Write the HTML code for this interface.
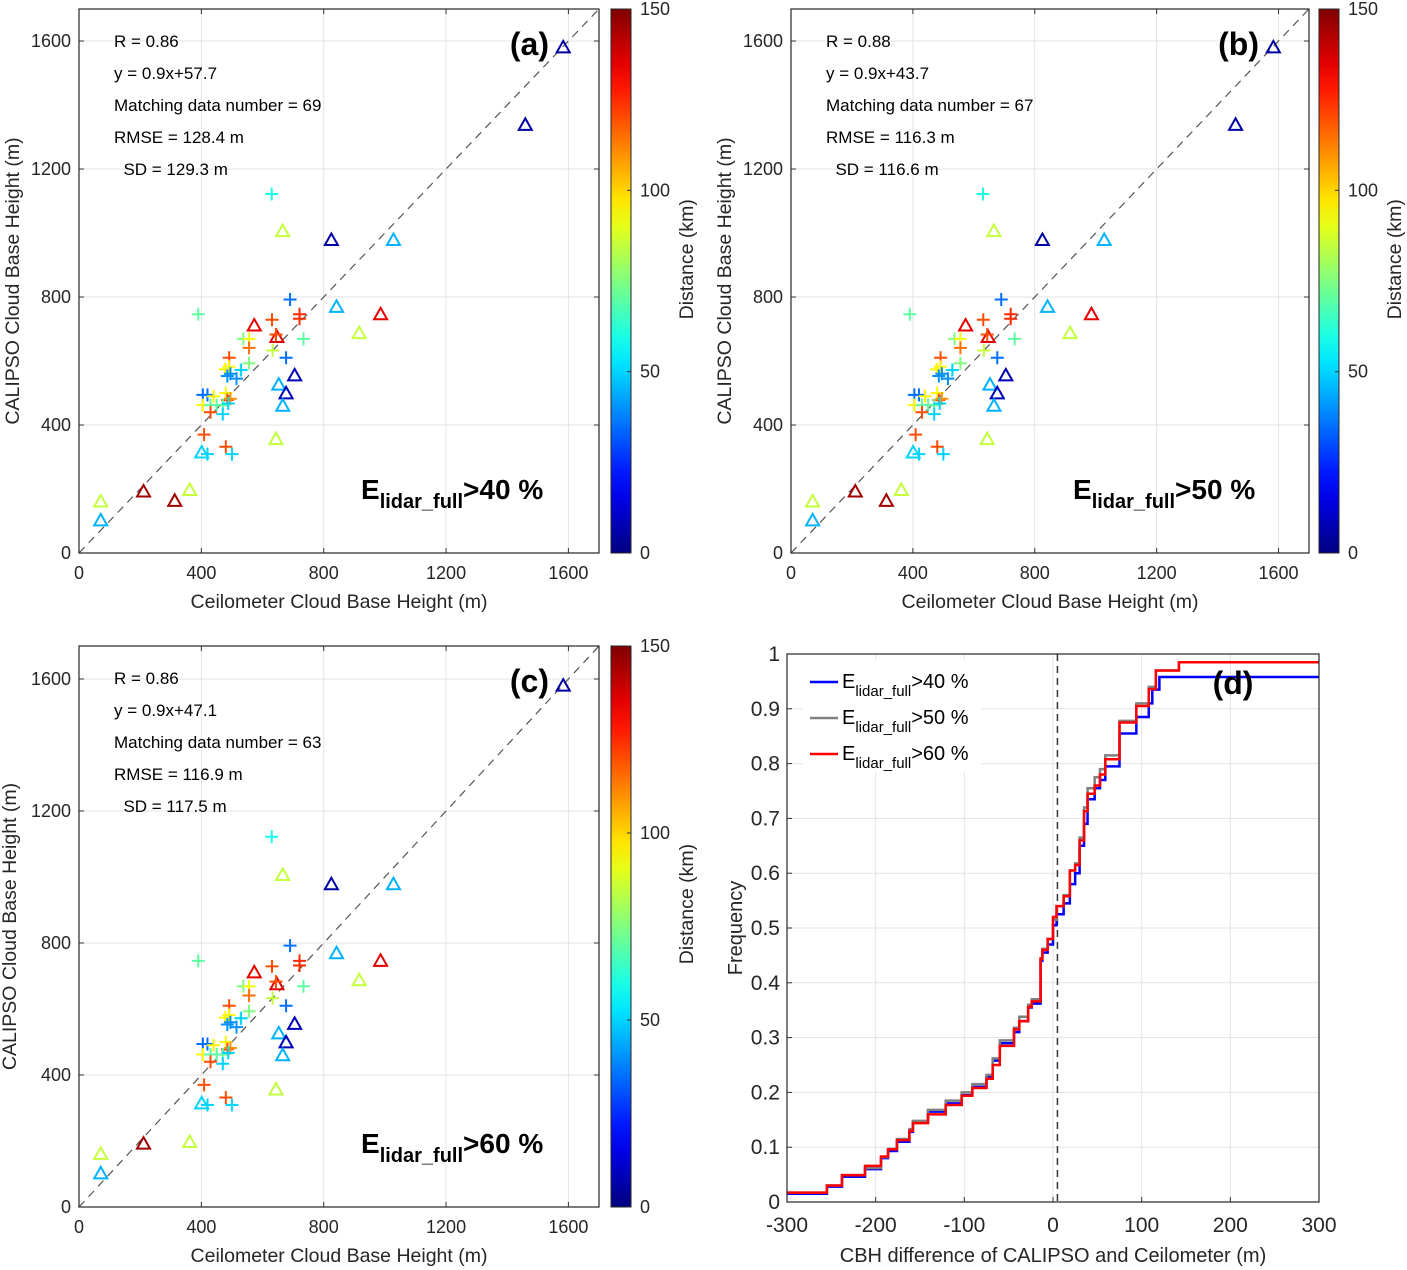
<!DOCTYPE html>
<html><head><meta charset="utf-8"><style>
html,body{margin:0;padding:0;background:#fff;}
svg{display:block;font-family:"Liberation Sans",Arial,sans-serif;}
.tk{font-size:18px;fill:#262626;}
.st{font-size:17px;fill:#000;white-space:pre;}
.lab{font-size:19.5px;fill:#262626;}
</style></head><body>
<svg id="fig" width="1407" height="1270" viewBox="0 0 1407 1270" xmlns="http://www.w3.org/2000/svg">
<defs><linearGradient id="jetg" x1="0" y1="1" x2="0" y2="0"></linearGradient></defs>
</svg>
<script>
// ---------- scatter data (ceilometer CBH, CALIPSO CBH, distance km, marker 0=plus 1=triangle) ----------
const ceiloX = [630,666,825,1028,690,390,842,986,916,573,631,721,721,647,644,734,537,556,556,633,677,491,556,529,705,478,490,530,485,495,515,653,677,666,405,420,440,480,485,495,405,430,450,470,488,430,470,644,409,480,401,420,500,211,313,362,71,71,1583,1459];
const calipsoY = [1122,1006,978,978,792,746,769,746,687,711,729,746,732,675,683,669,669,669,641,633,610,610,593,572,555,574,582,572,553,560,545,526,499,460,494,494,490,500,478,482,462,462,462,462,467,440,434,356,370,332,314,309,309,192,163,197,161,102,1580,1338];
const distKm = [60,85,5,45,35,70,45,135,85,135,120,125,125,135,120,70,75,92,115,85,35,120,75,70,8,95,95,50,40,40,40,45,8,45,35,35,95,95,120,110,95,70,70,70,50,120,50,85,120,120,50,50,50,145,145,85,85,45,5,5];
const markerType = [0,1,1,1,0,0,1,1,1,1,0,0,0,1,0,0,0,0,0,0,0,0,0,0,1,0,0,0,0,0,0,1,1,1,0,0,0,0,0,0,0,0,0,0,0,0,0,1,0,0,1,0,0,1,1,1,1,1,1,1];
const inPanelB = [1,1,1,1,1,1,1,1,1,1,1,1,1,1,1,1,1,1,1,1,1,1,1,1,1,1,1,1,1,1,1,1,1,1,1,1,1,1,1,1,1,1,1,1,1,1,1,1,1,1,1,1,1,1,1,1,1,1,1,1];
const inPanelC = [1,1,1,1,1,1,1,1,1,1,1,1,1,1,1,1,1,1,1,1,1,1,1,1,1,1,1,1,1,1,1,1,1,1,1,1,1,1,1,1,1,1,1,1,1,1,1,1,1,1,1,1,1,1,0,1,1,1,1,0];
const axisTicks = [0,400,800,1200,1600];
const cbTicks = [0,50,100,150];
const statsA = ["R = 0.86","y = 0.9x+57.7","Matching data number = 69","RMSE = 128.4 m","  SD = 129.3 m"];
const statsB = ["R = 0.88","y = 0.9x+43.7","Matching data number = 67","RMSE = 116.3 m","  SD = 116.6 m"];
const statsC = ["R = 0.86","y = 0.9x+47.1","Matching data number = 63","RMSE = 116.9 m","  SD = 117.5 m"];
// ---------- CDF data (panel d) ----------
const diff40 = [-300,-255,-238,-212,-194,-186,-176,-162,-158,-141,-121,-103,-91,-75,-68,-60,-44,-38,-28,-24,-14,-12,-6,0,4,12,19,25,30,35,39,47,53,59,75,94,108,112,120,144,300];
const cdf40  = [0.015,0.028,0.046,0.06,0.08,0.093,0.11,0.128,0.145,0.165,0.18,0.195,0.21,0.228,0.258,0.29,0.31,0.33,0.355,0.362,0.44,0.455,0.47,0.505,0.525,0.545,0.58,0.6,0.65,0.69,0.735,0.755,0.77,0.795,0.855,0.885,0.91,0.935,0.958,0.958,0.958];
const diff50 = [-300,-255,-238,-212,-194,-186,-176,-162,-158,-141,-121,-103,-91,-75,-68,-60,-44,-38,-28,-24,-14,-12,-6,0,4,12,19,25,30,35,39,47,53,59,75,94,108,116,142,300];
const cdf50  = [0.017,0.03,0.049,0.062,0.082,0.097,0.115,0.133,0.148,0.168,0.185,0.2,0.215,0.232,0.262,0.295,0.318,0.338,0.36,0.37,0.445,0.462,0.48,0.515,0.54,0.56,0.605,0.618,0.665,0.72,0.755,0.775,0.79,0.815,0.878,0.91,0.94,0.97,0.985,0.985];
const diff60 = [-300,-255,-238,-212,-194,-186,-176,-162,-158,-141,-121,-103,-91,-75,-68,-60,-44,-38,-28,-24,-14,-12,-6,0,4,12,19,25,30,35,39,47,53,59,75,94,108,116,142,300];
const cdf60  = [0.017,0.03,0.049,0.066,0.083,0.096,0.113,0.13,0.144,0.16,0.177,0.194,0.208,0.225,0.25,0.285,0.315,0.33,0.356,0.366,0.444,0.46,0.48,0.52,0.54,0.558,0.605,0.615,0.66,0.713,0.745,0.76,0.78,0.808,0.875,0.905,0.936,0.97,0.985,0.985];
const dXTicks = [-300,-200,-100,0,100,200,300];
const dYTicks = [0,0.1,0.2,0.3,0.4,0.5,0.6,0.7,0.8,0.9,1];

const svg = document.getElementById('fig');
const NS = 'http://www.w3.org/2000/svg';
function mk(tag, attrs, parent){const e=document.createElementNS(NS,tag);for(const k in attrs)e.setAttribute(k,attrs[k]);(parent||svg).appendChild(e);return e;}
function txt(x,y,s,cls,extra,parent){const t=mk('text',Object.assign({x:x,y:y,class:cls},extra||{}),parent);t.textContent=s;return t;}
function clamp(v){return Math.max(0,Math.min(1,v));}
function jet(t){const r=clamp(1.5-Math.abs(4*t-3)),g=clamp(1.5-Math.abs(4*t-2)),b=clamp(1.5-Math.abs(4*t-1));return 'rgb('+Math.round(r*255)+','+Math.round(g*255)+','+Math.round(b*255)+')';}
const grad = svg.querySelector('#jetg');
for(let i=0;i<=20;i++){mk('stop',{offset:(i/20),'stop-color':jet(i/20)},grad);}

function scatterPanel(id,box,cb,inArr,stats,letter,eText,xlab,ylabX){
  const g = mk('g',{});
  
  
  const [L,T,R,B]=box;
  const sx=v=>L+(v/1700)*(R-L), sy=v=>B-(v/1700)*(B-T);
  mk('rect',{x:L,y:T,width:R-L,height:B-T,fill:'#fff',stroke:'none'},g);
  axisTicks.forEach(v=>{
    mk('line',{x1:sx(v),y1:T,x2:sx(v),y2:B,stroke:'#e3e3e3','stroke-width':1},g);
    mk('line',{x1:L,y1:sy(v),x2:R,y2:sy(v),stroke:'#e3e3e3','stroke-width':1},g);
    const xt=txt(sx(v),B+26,String(v),'tk',{'text-anchor':'middle'},g);
    
    
    if(v>0){const yt=txt(L-8,sy(v)+6,String(v),'tk',{'text-anchor':'end'},g);
    
    }
    mk('line',{x1:sx(v),y1:B,x2:sx(v),y2:B-5,stroke:'#333'},g);
    mk('line',{x1:sx(v),y1:T,x2:sx(v),y2:T+5,stroke:'#333'},g);
    mk('line',{x1:L,y1:sy(v),x2:L+5,y2:sy(v),stroke:'#333'},g);
    mk('line',{x1:R,y1:sy(v),x2:R-5,y2:sy(v),stroke:'#333'},g);
  });
  txt(L-8,sy(0)+6,'0','tk',{'text-anchor':'end'},g);
  const ref=mk('line',{x1:sx(0),y1:sy(0),x2:sx(1700),y2:sy(1700),stroke:'#555','stroke-width':1.2,'stroke-dasharray':'8,6'},g);
  
  
  for(let i=0;i<ceiloX.length;i++){
    if(!inArr[i]) continue;
    const x=sx(ceiloX[i]), y=sy(calipsoY[i]), c=jet(distKm[i]/150);
    let m;
    if(markerType[i]===1){
      m=mk('path',{d:'M'+(x-6.5)+','+(y+5)+' L'+(x+6.5)+','+(y+5)+' L'+x+','+(y-6.5)+' Z',fill:'none',stroke:c,'stroke-width':2},g);
      
    } else {
      m=mk('path',{d:'M'+(x-6.5)+','+y+' H'+(x+6.5)+' M'+x+','+(y-6.5)+' V'+(y+6.5),fill:'none',stroke:c,'stroke-width':2},g);
      
    }
    
  }
  mk('rect',{x:L,y:T,width:R-L,height:B-T,fill:'none',stroke:'#262626','stroke-width':1.2},g);
  stats.forEach((s,i)=>{const t=txt(L+35,T+38+i*32,s,'st',{},g);
    
    });
  const lt=txt(R-50,T+46,letter,'',{'font-size':'32px','font-weight':'bold','text-anchor':'end'},g);
  
  
  const et=mk('text',{x:L+282,y:B-54,'font-size':'28px','font-weight':'bold'},g);
  
  
  et.innerHTML='E<tspan font-size="20px" dy="9">lidar_full</tspan><tspan dy="-9">'+eText+'</tspan>';
  const xl=txt((L+R)/2,B+55,xlab,'lab',{'text-anchor':'middle'},g);
  
  
  const yl=txt(0,0,'CALIPSO Cloud Base Height (m)','lab',{'text-anchor':'middle',transform:'translate('+ylabX+','+((T+B)/2)+') rotate(-90)'},g);
  
  
  const [cL,cR]=cb;
  const cbr=mk('rect',{x:cL,y:T,width:cR-cL,height:B-T,fill:'url(#jetg)',stroke:'#262626','stroke-width':1},g);
  
  
  cbTicks.forEach(v=>{const y=B-(v/150)*(B-T);
    mk('line',{x1:cR-4,y1:y,x2:cR,y2:y,stroke:'#333'},g);
    const t=txt(cR+9,y+6,String(v),'tk',{},g);
    
    });
  const ct=txt(0,0,'Distance (km)','lab',{'text-anchor':'middle',transform:'translate('+(cR+62)+','+(T+(B-T)*0.46)+') rotate(-90)'},g);
  
  
}
scatterPanel('a',[79,9,599,553],[611,631],inPanelB.map(()=>1),statsA,'(a)','>40 %','Ceilometer Cloud Base Height (m)',19);
scatterPanel('b',[791,9,1309,553],[1319,1339],inPanelB,statsB,'(b)','>50 %','Ceilometer Cloud Base Height (m)',731);
scatterPanel('c',[79,646,599,1207],[611,631],inPanelC,statsC,'(c)','>60 %','Ceilometer Cloud Base Height (m)',16);

// ---------- panel d ----------
(function(){
  const g=mk('g',{});
  
  
  const L=787,T=654,R=1319,B=1202;
  const sx=v=>L+(v+300)/600*(R-L), sy=v=>B-v*(B-T);
  dXTicks.forEach(v=>{mk('line',{x1:sx(v),y1:T,x2:sx(v),y2:B,stroke:'#e3e3e3'},g);
    mk('line',{x1:sx(v),y1:B,x2:sx(v),y2:B-5,stroke:'#333'},g);
    const t=txt(sx(v),B+30,String(v),'',{'font-size':'21px','text-anchor':'middle',fill:'#262626'},g);
    
    });
  dYTicks.forEach(v=>{mk('line',{x1:L,y1:sy(v),x2:R,y2:sy(v),stroke:'#e3e3e3'},g);
    mk('line',{x1:L,y1:sy(v),x2:L+5,y2:sy(v),stroke:'#333'},g);
    const t=txt(L-7,sy(v)+7,String(v),'',{'font-size':'21px','text-anchor':'end',fill:'#262626'},g);
    
    });
  const vl=mk('line',{x1:sx(5),y1:T,x2:sx(5),y2:B,stroke:'#333','stroke-width':1.5,'stroke-dasharray':'7,5'},g);
  
  
  function step(xs,ys,color,name){
    let d='M'+sx(xs[0])+','+sy(ys[0]);
    for(let i=1;i<xs.length;i++){d+=' H'+sx(xs[i]);if(i<ys.length)d+=' V'+sy(ys[i]);}
    const p=mk('path',{d:d,fill:'none',stroke:color,'stroke-width':2.5},g);
    
    
  }
  step(diff40,cdf40,'#0000ff','cdf-line-40');
  step(diff50,cdf50,'#808080','cdf-line-50');
  step(diff60,cdf60,'#ff0000','cdf-line-60');
  mk('rect',{x:L,y:T,width:R-L,height:B-T,fill:'none',stroke:'#262626','stroke-width':1.2},g);
  const lg=mk('g',{},g);
  
  
  mk('rect',{x:803,y:660,width:178,height:112,fill:'#fff'},lg);
  [['#0000ff','>40 %'],['#808080','>50 %'],['#ff0000','>60 %']].forEach((e,i)=>{
    const y=682+i*36;
    const le=mk('g',{},lg);
    
    
    mk('line',{x1:810,y1:y,x2:838,y2:y,stroke:e[0],'stroke-width':2.5},le);
    const t=mk('text',{x:842,y:y+6,'font-size':'20px',fill:'#000'},le);
    t.innerHTML='E<tspan font-size="15px" dy="8">lidar_full</tspan><tspan dy="-8">'+e[1]+'</tspan>';
  });
  const lt=txt(1233,694,'(d)','',{'font-size':'32px','font-weight':'bold','text-anchor':'middle'},g);
  
  
  const xl=txt((L+R)/2,1262,'CBH difference of CALIPSO and Ceilometer (m)','',{'font-size':'20px','text-anchor':'middle',fill:'#262626'},g);
  
  
  const yl=txt(0,0,'Frequency','',{'font-size':'20px','text-anchor':'middle',fill:'#262626',transform:'translate(742,928) rotate(-90)'},g);
  
  
})();
</script>
</body></html>
